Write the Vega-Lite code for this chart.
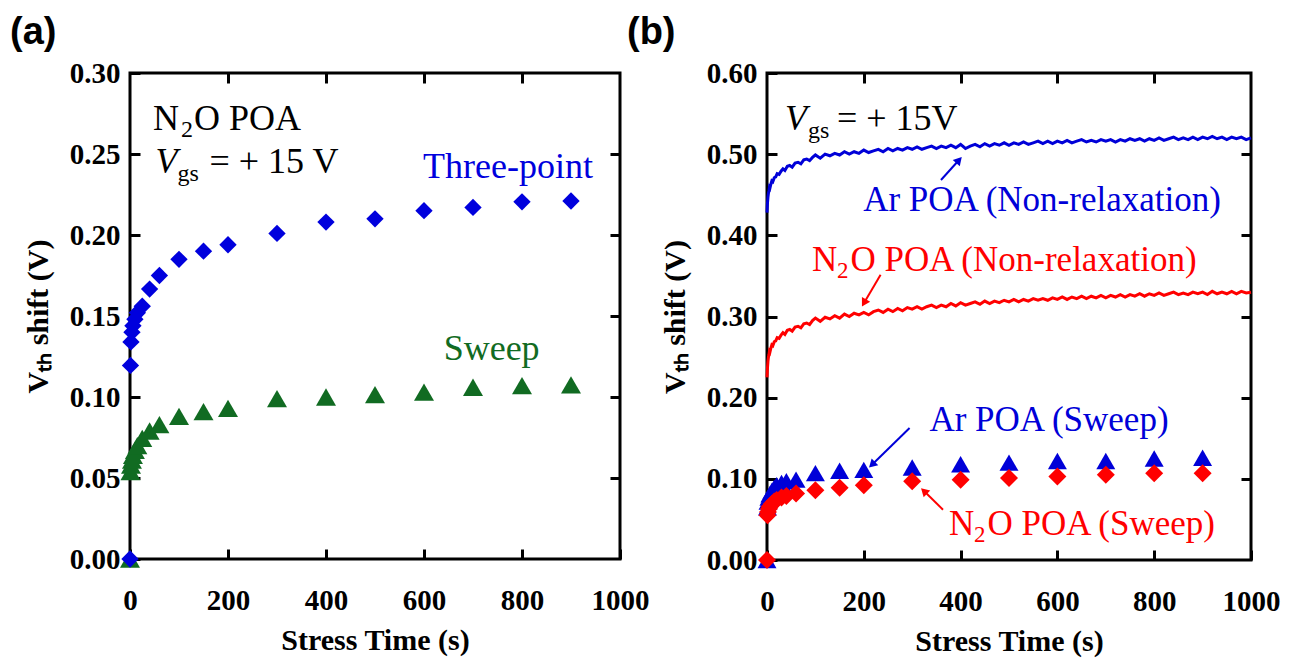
{
  "$schema": "https://vega.github.io/schema/vega-lite/v6.json",
  "background": "white",
  "padding": {"left": 8, "top": 12, "right": 5, "bottom": 2},
  "spacing": 147,
  "bounds": "flush",
  "resolve": {"scale": {"x": "independent", "y": "independent"}},
  "datasets": {
    "a_three": [
      {"t": 0, "v": 0}, {"t": 1, "v": 0.1195}, {"t": 2, "v": 0.134}, {"t": 4, "v": 0.14}, {"t": 6, "v": 0.144},
      {"t": 10, "v": 0.148}, {"t": 15, "v": 0.152}, {"t": 25, "v": 0.156}, {"t": 40, "v": 0.1666}, {"t": 60, "v": 0.175},
      {"t": 100, "v": 0.185}, {"t": 150, "v": 0.19}, {"t": 200, "v": 0.194}, {"t": 300, "v": 0.201}, {"t": 400, "v": 0.208},
      {"t": 500, "v": 0.21}, {"t": 600, "v": 0.215}, {"t": 700, "v": 0.217}, {"t": 800, "v": 0.2205}, {"t": 900, "v": 0.221}
    ],
    "a_sweep": [
      {"t": 0, "v": 0}, {"t": 1, "v": 0.054}, {"t": 2, "v": 0.058}, {"t": 4, "v": 0.061}, {"t": 6, "v": 0.064},
      {"t": 10, "v": 0.067}, {"t": 15, "v": 0.07}, {"t": 25, "v": 0.0745}, {"t": 40, "v": 0.079}, {"t": 60, "v": 0.083},
      {"t": 100, "v": 0.088}, {"t": 150, "v": 0.091}, {"t": 200, "v": 0.093}, {"t": 300, "v": 0.099}, {"t": 400, "v": 0.1},
      {"t": 500, "v": 0.1015}, {"t": 600, "v": 0.103}, {"t": 700, "v": 0.106}, {"t": 800, "v": 0.107}, {"t": 900, "v": 0.1075}
    ],
    "b_ar_line": [
      {"t": 0, "v": 0.428}, {"t": 1, "v": 0.44}, {"t": 2, "v": 0.447}, {"t": 3, "v": 0.452}, {"t": 4, "v": 0.455}, {"t": 5, "v": 0.459},
      {"t": 6, "v": 0.458}, {"t": 8, "v": 0.463}, {"t": 10, "v": 0.467}, {"t": 12, "v": 0.466}, {"t": 15, "v": 0.471}, {"t": 18, "v": 0.472},
      {"t": 21, "v": 0.476}, {"t": 25, "v": 0.475}, {"t": 29, "v": 0.479}, {"t": 33, "v": 0.482}, {"t": 37, "v": 0.48}, {"t": 42, "v": 0.485},
      {"t": 47, "v": 0.486}, {"t": 52, "v": 0.484}, {"t": 58, "v": 0.489}, {"t": 64, "v": 0.49}, {"t": 70, "v": 0.488}, {"t": 76, "v": 0.493},
      {"t": 82, "v": 0.494}, {"t": 88, "v": 0.492}, {"t": 94, "v": 0.496}, {"t": 100, "v": 0.499}, {"t": 110, "v": 0.495}, {"t": 120, "v": 0.5},
      {"t": 130, "v": 0.498}, {"t": 140, "v": 0.501}, {"t": 150, "v": 0.499}, {"t": 160, "v": 0.503}, {"t": 170, "v": 0.5}, {"t": 180, "v": 0.503},
      {"t": 190, "v": 0.501}, {"t": 200, "v": 0.505}, {"t": 210, "v": 0.502}, {"t": 220, "v": 0.504}, {"t": 230, "v": 0.506}, {"t": 240, "v": 0.503},
      {"t": 250, "v": 0.507}, {"t": 260, "v": 0.504}, {"t": 270, "v": 0.507}, {"t": 280, "v": 0.505}, {"t": 290, "v": 0.508}, {"t": 300, "v": 0.506},
      {"t": 310, "v": 0.509}, {"t": 320, "v": 0.506}, {"t": 330, "v": 0.508}, {"t": 340, "v": 0.51}, {"t": 350, "v": 0.507}, {"t": 360, "v": 0.51},
      {"t": 370, "v": 0.508}, {"t": 380, "v": 0.511}, {"t": 390, "v": 0.508}, {"t": 400, "v": 0.512}, {"t": 410, "v": 0.507}, {"t": 420, "v": 0.51},
      {"t": 430, "v": 0.512}, {"t": 440, "v": 0.509}, {"t": 450, "v": 0.513}, {"t": 460, "v": 0.51}, {"t": 470, "v": 0.513}, {"t": 480, "v": 0.511},
      {"t": 490, "v": 0.514}, {"t": 500, "v": 0.511}, {"t": 510, "v": 0.514}, {"t": 520, "v": 0.512}, {"t": 530, "v": 0.515}, {"t": 540, "v": 0.512},
      {"t": 550, "v": 0.514}, {"t": 560, "v": 0.516}, {"t": 570, "v": 0.513}, {"t": 580, "v": 0.516}, {"t": 590, "v": 0.513}, {"t": 600, "v": 0.516},
      {"t": 610, "v": 0.514}, {"t": 620, "v": 0.517}, {"t": 630, "v": 0.514}, {"t": 640, "v": 0.516}, {"t": 650, "v": 0.518}, {"t": 660, "v": 0.515},
      {"t": 670, "v": 0.517}, {"t": 680, "v": 0.515}, {"t": 690, "v": 0.518}, {"t": 700, "v": 0.516}, {"t": 710, "v": 0.518}, {"t": 720, "v": 0.515},
      {"t": 730, "v": 0.518}, {"t": 740, "v": 0.516}, {"t": 750, "v": 0.519}, {"t": 760, "v": 0.517}, {"t": 770, "v": 0.519}, {"t": 780, "v": 0.516},
      {"t": 790, "v": 0.519}, {"t": 800, "v": 0.517}, {"t": 810, "v": 0.52}, {"t": 820, "v": 0.517}, {"t": 830, "v": 0.519}, {"t": 840, "v": 0.521},
      {"t": 850, "v": 0.518}, {"t": 860, "v": 0.52}, {"t": 870, "v": 0.518}, {"t": 880, "v": 0.521}, {"t": 890, "v": 0.518}, {"t": 900, "v": 0.521},
      {"t": 910, "v": 0.519}, {"t": 920, "v": 0.522}, {"t": 930, "v": 0.519}, {"t": 940, "v": 0.521}, {"t": 950, "v": 0.518}, {"t": 960, "v": 0.521},
      {"t": 970, "v": 0.519}, {"t": 980, "v": 0.521}, {"t": 990, "v": 0.518}, {"t": 1000, "v": 0.52}
    ],
    "b_n2o_line": [
      {"t": 0, "v": 0.225}, {"t": 1, "v": 0.237}, {"t": 2, "v": 0.245}, {"t": 3, "v": 0.25}, {"t": 4, "v": 0.253}, {"t": 5, "v": 0.257},
      {"t": 6, "v": 0.256}, {"t": 8, "v": 0.261}, {"t": 10, "v": 0.265}, {"t": 12, "v": 0.264}, {"t": 15, "v": 0.269}, {"t": 18, "v": 0.27},
      {"t": 21, "v": 0.274}, {"t": 25, "v": 0.273}, {"t": 29, "v": 0.277}, {"t": 33, "v": 0.28}, {"t": 37, "v": 0.278}, {"t": 42, "v": 0.283},
      {"t": 47, "v": 0.284}, {"t": 52, "v": 0.282}, {"t": 58, "v": 0.287}, {"t": 64, "v": 0.288}, {"t": 70, "v": 0.286}, {"t": 76, "v": 0.291},
      {"t": 82, "v": 0.292}, {"t": 88, "v": 0.29}, {"t": 94, "v": 0.295}, {"t": 100, "v": 0.298}, {"t": 110, "v": 0.294}, {"t": 120, "v": 0.299},
      {"t": 130, "v": 0.297}, {"t": 140, "v": 0.301}, {"t": 150, "v": 0.298}, {"t": 160, "v": 0.303}, {"t": 170, "v": 0.3}, {"t": 180, "v": 0.304},
      {"t": 190, "v": 0.302}, {"t": 200, "v": 0.305}, {"t": 210, "v": 0.302}, {"t": 220, "v": 0.306}, {"t": 230, "v": 0.308}, {"t": 240, "v": 0.305},
      {"t": 250, "v": 0.309}, {"t": 260, "v": 0.306}, {"t": 270, "v": 0.31}, {"t": 280, "v": 0.307}, {"t": 290, "v": 0.311}, {"t": 300, "v": 0.309},
      {"t": 310, "v": 0.312}, {"t": 320, "v": 0.309}, {"t": 330, "v": 0.312}, {"t": 340, "v": 0.314}, {"t": 350, "v": 0.311}, {"t": 360, "v": 0.314},
      {"t": 370, "v": 0.312}, {"t": 380, "v": 0.316}, {"t": 390, "v": 0.313}, {"t": 400, "v": 0.317}, {"t": 410, "v": 0.314}, {"t": 420, "v": 0.316},
      {"t": 430, "v": 0.318}, {"t": 440, "v": 0.315}, {"t": 450, "v": 0.319}, {"t": 460, "v": 0.316}, {"t": 470, "v": 0.319}, {"t": 480, "v": 0.317},
      {"t": 490, "v": 0.32}, {"t": 500, "v": 0.318}, {"t": 510, "v": 0.321}, {"t": 520, "v": 0.318}, {"t": 530, "v": 0.321}, {"t": 540, "v": 0.319},
      {"t": 550, "v": 0.322}, {"t": 560, "v": 0.32}, {"t": 570, "v": 0.322}, {"t": 580, "v": 0.32}, {"t": 590, "v": 0.323}, {"t": 600, "v": 0.321},
      {"t": 610, "v": 0.324}, {"t": 620, "v": 0.321}, {"t": 630, "v": 0.324}, {"t": 640, "v": 0.322}, {"t": 650, "v": 0.325}, {"t": 660, "v": 0.322},
      {"t": 670, "v": 0.325}, {"t": 680, "v": 0.323}, {"t": 690, "v": 0.326}, {"t": 700, "v": 0.323}, {"t": 710, "v": 0.326}, {"t": 720, "v": 0.324},
      {"t": 730, "v": 0.327}, {"t": 740, "v": 0.324}, {"t": 750, "v": 0.327}, {"t": 760, "v": 0.325}, {"t": 770, "v": 0.328}, {"t": 780, "v": 0.325},
      {"t": 790, "v": 0.328}, {"t": 800, "v": 0.326}, {"t": 810, "v": 0.329}, {"t": 820, "v": 0.326}, {"t": 830, "v": 0.328}, {"t": 840, "v": 0.33},
      {"t": 850, "v": 0.327}, {"t": 860, "v": 0.329}, {"t": 870, "v": 0.327}, {"t": 880, "v": 0.33}, {"t": 890, "v": 0.328}, {"t": 900, "v": 0.33},
      {"t": 910, "v": 0.327}, {"t": 920, "v": 0.331}, {"t": 930, "v": 0.328}, {"t": 940, "v": 0.33}, {"t": 950, "v": 0.328}, {"t": 960, "v": 0.331},
      {"t": 970, "v": 0.328}, {"t": 980, "v": 0.331}, {"t": 990, "v": 0.329}, {"t": 1000, "v": 0.33}
    ],
    "b_ar_sweep": [
      {"t": 0, "v": 0}, {"t": 1, "v": 0.065}, {"t": 2, "v": 0.072}, {"t": 4, "v": 0.077}, {"t": 6, "v": 0.081},
      {"t": 10, "v": 0.085}, {"t": 15, "v": 0.089}, {"t": 20, "v": 0.092}, {"t": 30, "v": 0.095}, {"t": 40, "v": 0.097},
      {"t": 60, "v": 0.099}, {"t": 100, "v": 0.107}, {"t": 150, "v": 0.11}, {"t": 200, "v": 0.111}, {"t": 300, "v": 0.114},
      {"t": 400, "v": 0.118}, {"t": 500, "v": 0.12}, {"t": 600, "v": 0.122}, {"t": 700, "v": 0.122}, {"t": 800, "v": 0.125},
      {"t": 900, "v": 0.126}
    ],
    "b_n2o_sweep": [
      {"t": 0, "v": 0}, {"t": 1, "v": 0.055}, {"t": 2, "v": 0.059}, {"t": 4, "v": 0.063}, {"t": 6, "v": 0.066},
      {"t": 10, "v": 0.069}, {"t": 15, "v": 0.072}, {"t": 20, "v": 0.074}, {"t": 30, "v": 0.077}, {"t": 40, "v": 0.079},
      {"t": 60, "v": 0.082}, {"t": 100, "v": 0.086}, {"t": 150, "v": 0.089}, {"t": 200, "v": 0.092}, {"t": 300, "v": 0.097},
      {"t": 400, "v": 0.099}, {"t": 500, "v": 0.101}, {"t": 600, "v": 0.103}, {"t": 700, "v": 0.105}, {"t": 800, "v": 0.107},
      {"t": 900, "v": 0.107}
    ],
    "b_arrows": [
      {"id": "ar_nr", "gas": "Ar", "t": 359.5, "v": 0.4682, "t2": 396.7, "v2": 0.4928},
      {"id": "n2o_nr", "gas": "N2O", "t": 234.7, "v": 0.3515, "t2": 200.4, "v2": 0.3166},
      {"id": "ar_sw", "gas": "Ar", "t": 294.6, "v": 0.1626, "t2": 216.9, "v2": 0.1174},
      {"id": "n2o_sw", "gas": "N2O", "t": 363.6, "v": 0.062, "t2": 324.4, "v2": 0.085}
    ]
  },
  "hconcat": [
    {
      "width": 490,
      "height": 486,
      "title": {"text": "(a)", "anchor": "start", "frame": "group", "dx": -120, "offset": 7, "font": "Liberation Sans", "fontSize": 38, "fontWeight": "bold", "color": "black"},
      "resolve": {"axis": {"x": "independent", "y": "independent"}},
      "layer": [
        {
          "data": {"name": "a_sweep"},
          "mark": {"type": "point", "shape": "triangle-up", "filled": true, "size": 400, "color": "#116b22", "opacity": 1},
          "encoding": {
            "x": {"field": "t", "type": "quantitative", "scale": {"domain": [0, 1000], "nice": false},
              "axis": {"orient": "bottom", "values": [0, 200, 400, 600, 800, 1000], "format": "d", "title": "Stress Time (s)", "offset": -10, "tickSize": 10, "labelPadding": 27, "titlePadding": 10}},
            "y": {"field": "v", "type": "quantitative", "scale": {"domain": [0, 0.3], "nice": false},
              "axis": {"orient": "left", "values": [0, 0.05, 0.1, 0.15, 0.2, 0.25, 0.3], "format": ".2f", "title": "Vₜₕ shift (V)", "offset": -10, "tickSize": 10, "labelPadding": 10, "titlePadding": 16}}
          }
        },
        {
          "data": {"name": "a_three"},
          "mark": {"type": "point", "shape": "diamond", "filled": true, "size": 300, "color": "#0000dd", "opacity": 1},
          "encoding": {
            "x": {"field": "t", "type": "quantitative", "scale": {"domain": [0, 1000], "nice": false},
              "axis": {"orient": "top", "values": [200, 400, 600, 800], "labels": false, "title": null, "offset": -10, "tickSize": 10}},
            "y": {"field": "v", "type": "quantitative", "scale": {"domain": [0, 0.3], "nice": false},
              "axis": {"orient": "right", "values": [0.05, 0.1, 0.15, 0.2, 0.25], "labels": false, "title": null, "offset": -10, "tickSize": 10}}
          }
        },
        {
          "data": {"values": [{"t": 46.9, "v": 0.265, "text": "N"}]},
          "mark": {"type": "text", "align": "left", "baseline": "alphabetic", "font": "Liberation Serif", "fontSize": 36, "color": "black"},
          "encoding": {
            "x": {"field": "t", "type": "quantitative", "scale": {"domain": [0, 1000], "nice": false}, "axis": null},
            "y": {"field": "v", "type": "quantitative", "scale": {"domain": [0, 0.3], "nice": false}, "axis": null},
            "text": {"field": "text"}
          }
        },
        {
          "data": {"values": [{"t": 46.9, "v": 0.265, "text": "2"}]},
          "mark": {"type": "text", "align": "left", "baseline": "alphabetic", "font": "Liberation Serif", "fontSize": 24, "color": "black", "dx": 28, "dy": 7},
          "encoding": {
            "x": {"field": "t", "type": "quantitative", "scale": {"domain": [0, 1000], "nice": false}, "axis": null},
            "y": {"field": "v", "type": "quantitative", "scale": {"domain": [0, 0.3], "nice": false}, "axis": null},
            "text": {"field": "text"}
          }
        },
        {
          "data": {"values": [{"t": 46.9, "v": 0.265, "text": "O POA"}]},
          "mark": {"type": "text", "align": "left", "baseline": "alphabetic", "font": "Liberation Serif", "fontSize": 36, "color": "black", "dx": 41},
          "encoding": {
            "x": {"field": "t", "type": "quantitative", "scale": {"domain": [0, 1000], "nice": false}, "axis": null},
            "y": {"field": "v", "type": "quantitative", "scale": {"domain": [0, 0.3], "nice": false}, "axis": null},
            "text": {"field": "text"}
          }
        },
        {
          "data": {"values": [{"t": 52, "v": 0.2383, "text": "V"}]},
          "mark": {"type": "text", "align": "left", "baseline": "alphabetic", "font": "Liberation Serif", "fontSize": 36, "fontStyle": "italic", "color": "black"},
          "encoding": {
            "x": {"field": "t", "type": "quantitative", "scale": {"domain": [0, 1000], "nice": false}, "axis": null},
            "y": {"field": "v", "type": "quantitative", "scale": {"domain": [0, 0.3], "nice": false}, "axis": null},
            "text": {"field": "text"}
          }
        },
        {
          "data": {"values": [{"t": 52, "v": 0.2383, "text": "gs"}]},
          "mark": {"type": "text", "align": "left", "baseline": "alphabetic", "font": "Liberation Serif", "fontSize": 24, "color": "black", "dx": 22, "dy": 8},
          "encoding": {
            "x": {"field": "t", "type": "quantitative", "scale": {"domain": [0, 1000], "nice": false}, "axis": null},
            "y": {"field": "v", "type": "quantitative", "scale": {"domain": [0, 0.3], "nice": false}, "axis": null},
            "text": {"field": "text"}
          }
        },
        {
          "data": {"values": [{"t": 52, "v": 0.2383, "text": "= + 15 V"}]},
          "mark": {"type": "text", "align": "left", "baseline": "alphabetic", "font": "Liberation Serif", "fontSize": 36, "color": "black", "dx": 54},
          "encoding": {
            "x": {"field": "t", "type": "quantitative", "scale": {"domain": [0, 1000], "nice": false}, "axis": null},
            "y": {"field": "v", "type": "quantitative", "scale": {"domain": [0, 0.3], "nice": false}, "axis": null},
            "text": {"field": "text"}
          }
        },
        {
          "data": {"values": [{"t": 771.4, "v": 0.2352, "text": "Three-point"}]},
          "mark": {"type": "text", "align": "center", "baseline": "alphabetic", "font": "Liberation Serif", "fontSize": 36, "color": "#0000dd"},
          "encoding": {
            "x": {"field": "t", "type": "quantitative", "scale": {"domain": [0, 1000], "nice": false}, "axis": null},
            "y": {"field": "v", "type": "quantitative", "scale": {"domain": [0, 0.3], "nice": false}, "axis": null},
            "text": {"field": "text"}
          }
        },
        {
          "data": {"values": [{"t": 738, "v": 0.123, "text": "Sweep"}]},
          "mark": {"type": "text", "align": "center", "baseline": "alphabetic", "font": "Liberation Serif", "fontSize": 36, "color": "#116b22"},
          "encoding": {
            "x": {"field": "t", "type": "quantitative", "scale": {"domain": [0, 1000], "nice": false}, "axis": null},
            "y": {"field": "v", "type": "quantitative", "scale": {"domain": [0, 0.3], "nice": false}, "axis": null},
            "text": {"field": "text"}
          }
        }
      ]
    },
    {
      "width": 484,
      "height": 487,
      "title": {"text": "(b)", "anchor": "start", "frame": "group", "dx": -140, "offset": 7, "font": "Liberation Sans", "fontSize": 38, "fontWeight": "bold", "color": "black"},
      "resolve": {"axis": {"x": "independent", "y": "independent"}},
      "layer": [
        {
          "data": {"name": "b_ar_line"},
          "mark": {"type": "line", "color": "#0000d8", "strokeWidth": 3},
          "encoding": {
            "x": {"field": "t", "type": "quantitative", "scale": {"domain": [0, 1000], "nice": false},
              "axis": {"orient": "bottom", "values": [0, 200, 400, 600, 800, 1000], "format": "d", "title": "Stress Time (s)", "offset": -10, "tickSize": 10, "labelPadding": 27, "titlePadding": 10}},
            "y": {"field": "v", "type": "quantitative", "scale": {"domain": [0, 0.6], "nice": false},
              "axis": {"orient": "left", "values": [0, 0.1, 0.2, 0.3, 0.4, 0.5, 0.6], "format": ".2f", "title": "Vₜₕ shift (V)", "offset": -10, "tickSize": 10, "labelPadding": 10, "titlePadding": 16}}
          }
        },
        {
          "data": {"name": "b_n2o_line"},
          "mark": {"type": "line", "color": "#ff0000", "strokeWidth": 3},
          "encoding": {
            "x": {"field": "t", "type": "quantitative", "scale": {"domain": [0, 1000], "nice": false},
              "axis": {"orient": "top", "values": [200, 400, 600, 800], "labels": false, "title": null, "offset": -10, "tickSize": 10}},
            "y": {"field": "v", "type": "quantitative", "scale": {"domain": [0, 0.6], "nice": false},
              "axis": {"orient": "right", "values": [0.1, 0.2, 0.3, 0.4, 0.5], "labels": false, "title": null, "offset": -10, "tickSize": 10}}
          }
        },
        {
          "data": {"name": "b_ar_sweep"},
          "mark": {"type": "point", "shape": "triangle-up", "filled": true, "size": 360, "color": "#0000d8", "opacity": 1},
          "encoding": {
            "x": {"field": "t", "type": "quantitative", "scale": {"domain": [0, 1000], "nice": false}, "axis": null},
            "y": {"field": "v", "type": "quantitative", "scale": {"domain": [0, 0.6], "nice": false}, "axis": null}
          }
        },
        {
          "data": {"name": "b_n2o_sweep"},
          "mark": {"type": "point", "shape": "diamond", "filled": true, "size": 324, "color": "#ff0000", "opacity": 1},
          "encoding": {
            "x": {"field": "t", "type": "quantitative", "scale": {"domain": [0, 1000], "nice": false}, "axis": null},
            "y": {"field": "v", "type": "quantitative", "scale": {"domain": [0, 0.6], "nice": false}, "axis": null}
          }
        },
        {
          "data": {"name": "b_arrows"},
          "mark": {"type": "rule", "strokeWidth": 2},
          "encoding": {
            "x": {"field": "t", "type": "quantitative", "scale": {"domain": [0, 1000], "nice": false}, "axis": null},
            "y": {"field": "v", "type": "quantitative", "scale": {"domain": [0, 0.6], "nice": false}, "axis": null},
            "x2": {"field": "t2"},
            "y2": {"field": "v2"},
            "color": {"field": "gas", "type": "nominal", "scale": {"domain": ["Ar", "N2O"], "range": ["#0000d8", "#ff0000"]}, "legend": null}
          }
        },
        {
          "data": {"name": "b_arrows"},
          "transform": [{"filter": "datum.id == 'ar_nr'"}],
          "mark": {"type": "point", "shape": "triangle-up", "filled": true, "size": 90, "opacity": 1, "color": "#0000d8", "angle": 42},
          "encoding": {
            "x": {"field": "t2", "type": "quantitative", "scale": {"domain": [0, 1000], "nice": false}, "axis": null},
            "y": {"field": "v2", "type": "quantitative", "scale": {"domain": [0, 0.6], "nice": false}, "axis": null}
          }
        },
        {
          "data": {"name": "b_arrows"},
          "transform": [{"filter": "datum.id == 'n2o_nr'"}],
          "mark": {"type": "point", "shape": "triangle-up", "filled": true, "size": 90, "opacity": 1, "color": "#ff0000", "angle": 210},
          "encoding": {
            "x": {"field": "t2", "type": "quantitative", "scale": {"domain": [0, 1000], "nice": false}, "axis": null},
            "y": {"field": "v2", "type": "quantitative", "scale": {"domain": [0, 0.6], "nice": false}, "axis": null}
          }
        },
        {
          "data": {"name": "b_arrows"},
          "transform": [{"filter": "datum.id == 'ar_sw'"}],
          "mark": {"type": "point", "shape": "triangle-up", "filled": true, "size": 90, "opacity": 1, "color": "#0000d8", "angle": 226},
          "encoding": {
            "x": {"field": "t2", "type": "quantitative", "scale": {"domain": [0, 1000], "nice": false}, "axis": null},
            "y": {"field": "v2", "type": "quantitative", "scale": {"domain": [0, 0.6], "nice": false}, "axis": null}
          }
        },
        {
          "data": {"name": "b_arrows"},
          "transform": [{"filter": "datum.id == 'n2o_sw'"}],
          "mark": {"type": "point", "shape": "triangle-up", "filled": true, "size": 90, "opacity": 1, "color": "#ff0000", "angle": 314},
          "encoding": {
            "x": {"field": "t2", "type": "quantitative", "scale": {"domain": [0, 1000], "nice": false}, "axis": null},
            "y": {"field": "v2", "type": "quantitative", "scale": {"domain": [0, 0.6], "nice": false}, "axis": null}
          }
        },
        {
          "data": {"values": [{"t": 37.2, "v": 0.5301, "text": "V"}]},
          "mark": {"type": "text", "align": "left", "baseline": "alphabetic", "font": "Liberation Serif", "fontSize": 36, "fontStyle": "italic", "color": "black"},
          "encoding": {
            "x": {"field": "t", "type": "quantitative", "scale": {"domain": [0, 1000], "nice": false}, "axis": null},
            "y": {"field": "v", "type": "quantitative", "scale": {"domain": [0, 0.6], "nice": false}, "axis": null},
            "text": {"field": "text"}
          }
        },
        {
          "data": {"values": [{"t": 37.2, "v": 0.5301, "text": "gs"}]},
          "mark": {"type": "text", "align": "left", "baseline": "alphabetic", "font": "Liberation Serif", "fontSize": 24, "color": "black", "dx": 23, "dy": 8},
          "encoding": {
            "x": {"field": "t", "type": "quantitative", "scale": {"domain": [0, 1000], "nice": false}, "axis": null},
            "y": {"field": "v", "type": "quantitative", "scale": {"domain": [0, 0.6], "nice": false}, "axis": null},
            "text": {"field": "text"}
          }
        },
        {
          "data": {"values": [{"t": 37.2, "v": 0.5301, "text": "= + 15V"}]},
          "mark": {"type": "text", "align": "left", "baseline": "alphabetic", "font": "Liberation Serif", "fontSize": 36, "color": "black", "dx": 52},
          "encoding": {
            "x": {"field": "t", "type": "quantitative", "scale": {"domain": [0, 1000], "nice": false}, "axis": null},
            "y": {"field": "v", "type": "quantitative", "scale": {"domain": [0, 0.6], "nice": false}, "axis": null},
            "text": {"field": "text"}
          }
        },
        {
          "data": {"values": [{"t": 568.2, "v": 0.4296, "text": "Ar POA (Non-relaxation)"}, {"t": 582.6, "v": 0.1586, "text": "Ar POA (Sweep)"}]},
          "mark": {"type": "text", "align": "center", "baseline": "alphabetic", "font": "Liberation Serif", "fontSize": 35, "color": "#0000d8"},
          "encoding": {
            "x": {"field": "t", "type": "quantitative", "scale": {"domain": [0, 1000], "nice": false}, "axis": null},
            "y": {"field": "v", "type": "quantitative", "scale": {"domain": [0, 0.6], "nice": false}, "axis": null},
            "text": {"field": "text"}
          }
        },
        {
          "data": {"values": [{"t": 93, "v": 0.3557, "text": "N"}, {"t": 376, "v": 0.0312, "text": "N"}]},
          "mark": {"type": "text", "align": "left", "baseline": "alphabetic", "font": "Liberation Serif", "fontSize": 35, "color": "#ff0000"},
          "encoding": {
            "x": {"field": "t", "type": "quantitative", "scale": {"domain": [0, 1000], "nice": false}, "axis": null},
            "y": {"field": "v", "type": "quantitative", "scale": {"domain": [0, 0.6], "nice": false}, "axis": null},
            "text": {"field": "text"}
          }
        },
        {
          "data": {"values": [{"t": 93, "v": 0.3557, "text": "2"}, {"t": 376, "v": 0.0312, "text": "2"}]},
          "mark": {"type": "text", "align": "left", "baseline": "alphabetic", "font": "Liberation Serif", "fontSize": 23, "color": "#ff0000", "dx": 25, "dy": 7},
          "encoding": {
            "x": {"field": "t", "type": "quantitative", "scale": {"domain": [0, 1000], "nice": false}, "axis": null},
            "y": {"field": "v", "type": "quantitative", "scale": {"domain": [0, 0.6], "nice": false}, "axis": null},
            "text": {"field": "text"}
          }
        },
        {
          "data": {"values": [{"t": 93, "v": 0.3557, "text": "O POA (Non-relaxation)"}, {"t": 376, "v": 0.0312, "text": "O POA (Sweep)"}]},
          "mark": {"type": "text", "align": "left", "baseline": "alphabetic", "font": "Liberation Serif", "fontSize": 35, "color": "#ff0000", "dx": 38.5},
          "encoding": {
            "x": {"field": "t", "type": "quantitative", "scale": {"domain": [0, 1000], "nice": false}, "axis": null},
            "y": {"field": "v", "type": "quantitative", "scale": {"domain": [0, 0.6], "nice": false}, "axis": null},
            "text": {"field": "text"}
          }
        }
      ]
    }
  ],
  "config": {
    "view": {"stroke": "black", "strokeWidth": 3},
    "axis": {
      "domain": false,
      "grid": false,
      "ticks": true,
      "tickColor": "black",
      "tickWidth": 3,
      "labelFont": "Liberation Serif",
      "labelFontSize": 29,
      "labelFontWeight": "bold",
      "labelColor": "black",
      "labelFlush": false,
      "labelOverlap": false,
      "labelBound": false,
      "titleFont": "Liberation Serif",
      "titleFontSize": 30,
      "titleFontWeight": "bold",
      "titleColor": "black"
    }
  }
}
